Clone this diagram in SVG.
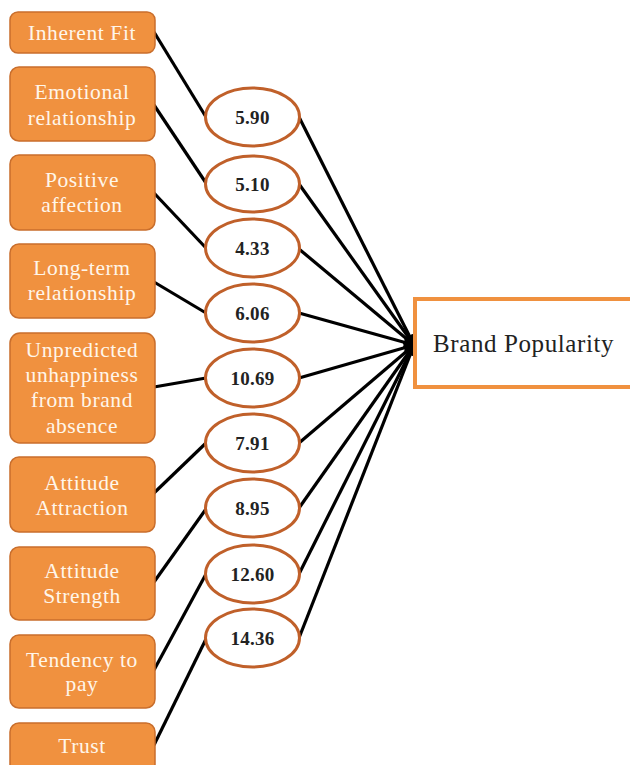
<svg xmlns="http://www.w3.org/2000/svg" width="630" height="765" viewBox="0 0 630 765">
<defs>
<style>
.box{fill:#F0913F;stroke:#C96E2C;stroke-width:1.5}
.bt{font-family:"Liberation Serif","Times New Roman",serif;font-size:21.5px;letter-spacing:0.6px;fill:#FFF6EA;text-anchor:middle}
.ell{fill:#fff;stroke:#C0602A;stroke-width:3}
.et{font-family:"Liberation Serif","Times New Roman",serif;font-size:19px;font-weight:bold;letter-spacing:0.3px;fill:#222;text-anchor:middle}
.ln{stroke:#000;stroke-width:3.2;fill:none}
.arr{stroke:#000;stroke-width:3.2;fill:none;marker-end:url(#ah)}
</style>
<marker id="ah" viewBox="0 0 10 10" refX="9" refY="5" markerWidth="3.5" markerHeight="3.5" orient="auto" markerUnits="strokeWidth">
<path d="M0,0 L10,5 L0,10 z" fill="#000"/>
</marker>
</defs>
<rect width="630" height="765" fill="#fff"/>
<g id="connectors">
<line class="ln" x1="154" y1="32" x2="206" y2="117"/>
<line class="ln" x1="154" y1="105" x2="206" y2="183"/>
<line class="ln" x1="154" y1="193" x2="206" y2="248"/>
<line class="ln" x1="154" y1="282" x2="206" y2="313"/>
<line class="ln" x1="154" y1="387" x2="206" y2="378"/>
<line class="ln" x1="154" y1="493" x2="206" y2="443"/>
<line class="ln" x1="154" y1="582" x2="206" y2="509"/>
<line class="ln" x1="154" y1="670" x2="206" y2="574"/>
<line class="ln" x1="154" y1="745" x2="206" y2="639"/>
<line class="arr" x1="299" y1="117" x2="414" y2="345"/>
<line class="arr" x1="299" y1="184" x2="414" y2="345"/>
<line class="arr" x1="299" y1="249" x2="414" y2="345"/>
<line class="arr" x1="299" y1="313" x2="414" y2="345"/>
<line class="arr" x1="299" y1="378" x2="414" y2="345"/>
<line class="arr" x1="299" y1="443" x2="414" y2="345"/>
<line class="arr" x1="299" y1="508" x2="414" y2="345"/>
<line class="arr" x1="299" y1="574" x2="414" y2="345"/>
<line class="arr" x1="299" y1="638" x2="414" y2="345"/>
</g>
<g id="n1"><rect class="box" x="10" y="12" width="145" height="41" rx="8"/><text class="bt" x="82" y="40">Inherent Fit</text></g>
<g id="n2"><rect class="box" x="10" y="67" width="145" height="74" rx="9"/><text class="bt" x="82" y="99">Emotional</text><text class="bt" x="82" y="125">relationship</text></g>
<g id="n3"><rect class="box" x="10" y="155" width="145" height="75" rx="9"/><text class="bt" x="82" y="187">Positive</text><text class="bt" x="82" y="212">affection</text></g>
<g id="n4"><rect class="box" x="10" y="244" width="145" height="74" rx="9"/><text class="bt" x="82" y="275">Long-term</text><text class="bt" x="82" y="300">relationship</text></g>
<g id="n5"><rect class="box" x="10" y="333" width="145" height="110" rx="10"/><text class="bt" x="82" y="357">Unpredicted</text><text class="bt" x="82" y="382">unhappiness</text><text class="bt" x="82" y="407">from brand</text><text class="bt" x="82" y="433">absence</text></g>
<g id="n6"><rect class="box" x="10" y="457" width="145" height="75" rx="9"/><text class="bt" x="82" y="490">Attitude</text><text class="bt" x="82" y="515">Attraction</text></g>
<g id="n7"><rect class="box" x="10" y="547" width="145" height="73" rx="9"/><text class="bt" x="82" y="578">Attitude</text><text class="bt" x="82" y="603">Strength</text></g>
<g id="n8"><rect class="box" x="10" y="635" width="145" height="73" rx="9"/><text class="bt" x="82" y="667">Tendency to</text><text class="bt" x="82" y="691">pay</text></g>
<g id="n9"><rect class="box" x="10" y="723" width="145" height="60" rx="9"/><text class="bt" x="82" y="753">Trust</text></g>
<g id="e1"><ellipse class="ell" cx="252.5" cy="117" rx="47" ry="29"/><text class="et" x="252.5" y="124">5.90</text></g>
<g id="e2"><ellipse class="ell" cx="252.5" cy="184" rx="47" ry="28"/><text class="et" x="252.5" y="191">5.10</text></g>
<g id="e3"><ellipse class="ell" cx="252.5" cy="248" rx="47" ry="29"/><text class="et" x="252.5" y="255">4.33</text></g>
<g id="e4"><ellipse class="ell" cx="252.5" cy="313" rx="47" ry="29"/><text class="et" x="252.5" y="320">6.06</text></g>
<g id="e5"><ellipse class="ell" cx="252.5" cy="378" rx="47" ry="29"/><text class="et" x="252.5" y="385">10.69</text></g>
<g id="e6"><ellipse class="ell" cx="252.5" cy="443" rx="47" ry="29"/><text class="et" x="252.5" y="450">7.91</text></g>
<g id="e7"><ellipse class="ell" cx="252.5" cy="508" rx="47" ry="29"/><text class="et" x="252.5" y="515">8.95</text></g>
<g id="e8"><ellipse class="ell" cx="252.5" cy="574" rx="47" ry="29"/><text class="et" x="252.5" y="581">12.60</text></g>
<g id="e9"><ellipse class="ell" cx="252.5" cy="638" rx="47" ry="29"/><text class="et" x="252.5" y="645">14.36</text></g>
<g id="target"><rect x="415" y="299" width="222" height="88" fill="#fff" stroke="#F0913F" stroke-width="4"/><text x="433" y="352" font-family="'Liberation Serif','Times New Roman',serif" font-size="25" letter-spacing="0.6" fill="#222">Brand Popularity</text></g>
</svg>
